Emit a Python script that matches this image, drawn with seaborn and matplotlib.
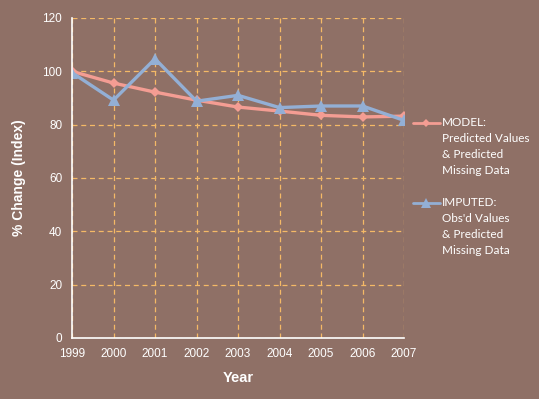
import matplotlib
matplotlib.use("Agg")
import matplotlib.pyplot as plt
import seaborn as sns
import pandas as pd

years = [1999, 2000, 2001, 2002, 2003, 2004, 2005, 2006, 2007]
model_vals = [100.0, 95.6, 92.2, 89.2, 86.6, 85.1, 83.5, 82.9, 83.2]
imputed_vals = [99.5, 89.2, 104.7, 88.8, 91.0, 86.4, 87.0, 87.0, 81.6]
series_names = ["MODEL:\nPredicted Values\n& Predicted\nMissing Data",
                "IMPUTED:\nObs'd Values\n& Predicted\nMissing Data"]
y_ticks = [0, 20, 40, 60, 80, 100, 120]

df = pd.DataFrame({
    "Year": years * 2,
    "Value": model_vals + imputed_vals,
    "Series": [series_names[0]] * len(years) + [series_names[1]] * len(years),
})

sns.set_theme(style="white")
bg = "#8F7066"
DPI = 100
fig = plt.figure(figsize=(5.39, 3.99), dpi=DPI, facecolor=bg)
ax = fig.add_axes([0.1336, 0.1529, 0.616, 0.802])
ax.set_facecolor(bg)

palette = {series_names[0]: "#F49D93", series_names[1]: "#93AFD5"}
sns.lineplot(data=df, x="Year", y="Value", hue="Series", style="Series",
             markers={series_names[0]: "D", series_names[1]: "^"},
             dashes=False, palette=palette, linewidth=2.4, ax=ax,
             markersize=8, markeredgewidth=0)
for line in ax.get_lines():
    if line.get_marker() == "D":
        line.set_markersize(5.5)
    elif line.get_marker() == "^":
        line.set_markersize(9)

ax.set_xlim(1999, 2007)
ax.set_ylim(0, 120)
ax.set_xticks(years)
ax.set_yticks(y_ticks)
tick_font = ["Liberation Sans", "DejaVu Sans"]
ax.set_xticklabels([str(y) for y in years], color="white", fontsize=8.5, family=tick_font)
ax.set_yticklabels([str(v) for v in y_ticks], color="white", fontsize=8.5, family=tick_font)
ax.tick_params(axis="both", which="both", length=4, color="white", width=1, direction="out", pad=3)

ax.grid(True, color="#F5B966", linestyle=(0, (4, 3)), linewidth=0.9)
for s in ["top", "right"]:
    ax.spines[s].set_visible(False)
for s in ["left", "bottom"]:
    ax.spines[s].set_color("white")
    ax.spines[s].set_linewidth(1.2)
ax.set_axisbelow(True)

ax.set_xlabel("Year", color="white", fontsize=10.5, fontweight="bold", family=tick_font, labelpad=8)
ax.set_ylabel("% Change (Index)", color="white", fontsize=10, fontweight="bold", family=tick_font, labelpad=12)

handles, labels = ax.get_legend_handles_labels()
for h in handles:
    if h.get_marker() == "D":
        h.set_markersize(4.5)
    elif h.get_marker() == "^":
        h.set_markersize(7)
    h.set_linewidth(2)
leg_font = {"family": ["Lato", "DejaVu Sans"], "size": 8.5}
leg = ax.legend(handles, labels, loc="upper left", bbox_to_anchor=(1.026, 0.69),
                frameon=False, handlelength=2.3, handletextpad=0.15,
                labelspacing=1.75, borderaxespad=0, borderpad=0, labelcolor="white",
                prop=leg_font)
for t in leg.get_texts():
    t.set_linespacing(1.55)

# move each legend handle up so it sits beside the first line of its label
fig.canvas.draw()
renderer = fig.canvas.get_renderer()
for t, hl in zip(leg.get_texts(), leg.get_lines()):
    H = t.get_window_extent(renderer).height
    probe = fig.text(0, 0, t.get_text().split("\n")[0], fontproperties=t.get_fontproperties())
    h1 = probe.get_window_extent(renderer).height
    probe.remove()
    shift_pt = 0.5 * (H - h1) * 72.0 / DPI
    yd = hl.get_ydata()
    hl.set_ydata([y + shift_pt for y in yd])

fig.savefig("out.png", dpi=DPI, facecolor=bg)
